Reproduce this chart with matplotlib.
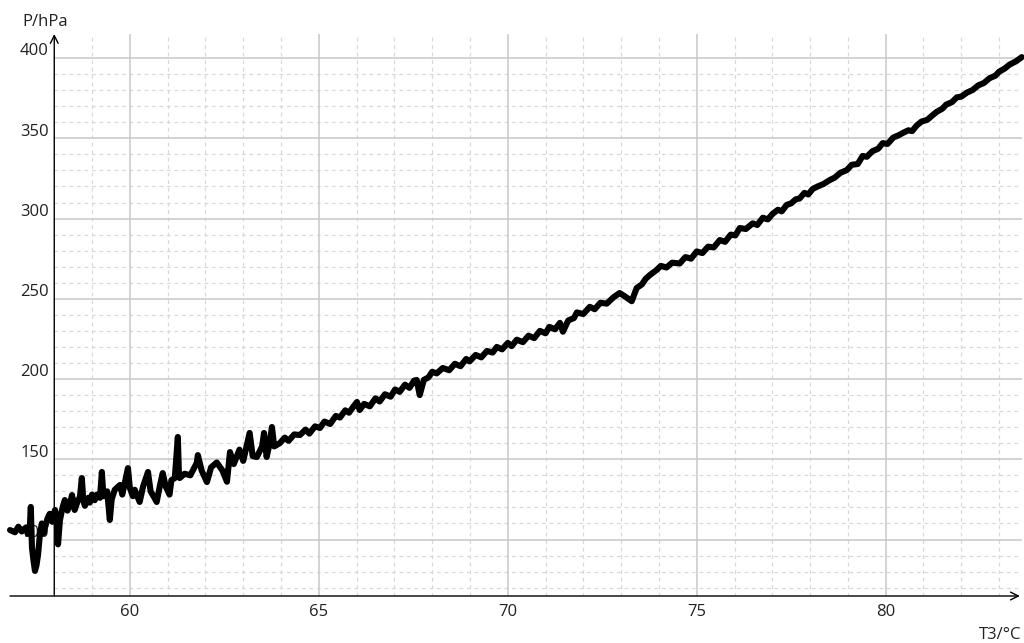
import numpy as np
import matplotlib
matplotlib.use("Agg")
import matplotlib.pyplot as plt

plt.rcParams['font.family'] = ['Open Sans', 'DejaVu Sans']

# trace: T3 in degC, P in hPa
temp = [56.83, 56.96, 57.05, 57.14, 57.25, 57.30, 57.35, 57.38, 57.41, 57.45,
        57.49, 57.53, 57.57, 57.62, 57.67, 57.72, 57.75, 57.82, 57.88, 57.95,
        58.02, 58.07, 58.10, 58.15, 58.22, 58.28, 58.35, 58.41, 58.47, 58.54,
        58.62, 58.68, 58.73, 58.77, 58.81, 58.90, 58.94, 59.00, 59.07, 59.13,
        59.21, 59.26, 59.30, 59.40, 59.47, 59.52, 59.60, 59.74, 59.80, 59.95,
        60.00, 60.08, 60.13, 60.26, 60.35, 60.48, 60.55, 60.65, 60.71, 60.80,
        60.87, 60.95, 61.05, 61.10, 61.19, 61.27, 61.30, 61.32, 61.45, 61.60,
        61.77, 61.80, 61.90, 62.04, 62.15, 62.30, 62.45, 62.57, 62.65, 62.75,
        62.90, 63.00, 63.17, 63.25, 63.36, 63.50, 63.55, 63.62, 63.70, 63.76,
        63.82, 63.97, 64.10, 64.20, 64.35, 64.50, 64.65, 64.75, 64.90, 65.03,
        65.15, 65.30, 65.45, 65.56, 65.70, 65.80, 65.92, 66.01, 66.08, 66.20,
        66.35, 66.50, 66.61, 66.75, 66.90, 67.02, 67.14, 67.28, 67.40, 67.52,
        67.59, 67.67, 67.78, 67.90, 68.00, 68.12, 68.28, 68.45, 68.60, 68.75,
        68.90, 68.99, 69.15, 69.30, 69.45, 69.60, 69.71, 69.85, 70.00, 70.10,
        70.24, 70.40, 70.55, 70.70, 70.85, 71.00, 71.10, 71.25, 71.38, 71.46,
        71.60, 71.75, 71.83, 72.00, 72.17, 72.30, 72.45, 72.62, 72.80, 72.96,
        73.10, 73.28, 73.41, 73.55, 73.65, 73.76, 73.94, 74.05, 74.20, 74.35,
        74.55, 74.70, 74.85, 75.00, 75.15, 75.30, 75.45, 75.61, 75.75, 75.90,
        76.02, 76.14, 76.30, 76.48, 76.60, 76.75, 76.88, 77.01, 77.15, 77.25,
        77.38, 77.50, 77.62, 77.72, 77.85, 77.95, 78.07, 78.20, 78.35, 78.52,
        78.65, 78.80, 78.97, 79.10, 79.26, 79.39, 79.50, 79.65, 79.80, 79.92,
        80.05, 80.20, 80.35, 80.45, 80.60, 80.70, 80.82, 80.95, 81.10, 81.22,
        81.35, 81.50, 81.60, 81.75, 81.88, 82.00, 82.15, 82.30, 82.45, 82.60,
        82.75, 82.90, 83.00, 83.15, 83.28, 83.45, 83.60]
pres = [105.9, 104.5, 108.0, 105.0, 107.5, 103.5, 106.0, 120.3, 95.0, 87.0,
        80.4, 84.0, 90.3, 103.0, 110.0, 104.0, 107.0, 113.0, 116.0, 111.0,
        118.4, 113.0, 97.0, 112.0, 120.0, 124.6, 118.0, 121.5, 127.7, 118.4,
        124.0, 126.5, 138.3, 124.0, 121.0, 126.0, 123.0, 128.0, 124.5, 128.0,
        126.0, 142.1, 127.0, 130.0, 112.2, 125.0, 131.0, 134.0, 128.0, 144.5,
        132.1, 127.0, 131.0, 123.4, 133.0, 142.1, 130.0, 126.0, 123.4, 134.0,
        141.4, 133.0, 128.0, 137.0, 138.3, 163.9, 140.0, 138.3, 141.0, 140.0,
        147.7, 152.6, 143.0, 135.8, 145.0, 148.0, 143.0, 136.0, 154.5, 147.0,
        156.0, 149.0, 166.4, 152.0, 151.4, 158.0, 166.4, 151.4, 160.0, 170.1,
        158.0, 160.1, 163.5, 161.5, 165.5, 165.1, 168.5, 166.0, 170.5, 169.5,
        173.5, 172.0, 177.0, 176.0, 180.5, 179.0, 183.0, 185.7, 180.7, 184.5,
        183.0, 188.0, 186.0, 190.5, 189.0, 193.5, 192.0, 196.5, 194.5, 199.0,
        199.4, 190.0, 199.5, 201.0, 204.5, 203.5, 206.9, 205.5, 209.5, 208.0,
        212.5, 211.0, 215.0, 213.5, 217.5, 216.5, 220.0, 218.5, 222.5, 220.5,
        224.5, 223.0, 227.0, 225.5, 230.0, 228.5, 232.5, 231.0, 235.0, 229.5,
        236.5, 238.0, 241.5, 240.5, 245.0, 243.5, 247.5, 247.0, 251.0, 253.6,
        251.5, 248.5, 256.7, 259.0, 262.5, 264.8, 268.0, 270.5, 269.5, 272.5,
        272.0, 276.0, 275.0, 279.5, 278.5, 282.5, 282.0, 286.6, 285.5, 290.0,
        289.5, 294.1, 293.5, 297.0, 296.0, 300.5, 299.5, 303.0, 305.5, 304.5,
        308.5, 309.5, 312.0, 312.5, 316.0, 315.0, 318.5, 320.0, 321.5, 324.0,
        325.5, 328.5, 330.2, 333.5, 334.0, 339.0, 338.5, 342.0, 343.5, 347.0,
        346.5, 350.5, 352.0, 353.3, 355.0, 354.5, 358.0, 360.5, 361.5, 364.0,
        366.5, 368.5, 371.0, 372.5, 375.5, 376.0, 378.5, 380.1, 383.0, 384.5,
        387.5, 389.0, 391.5, 393.5, 396.0, 398.0, 400.6]

x_major = [60, 65, 70, 75, 80]
y_major = [100, 150, 200, 250, 300, 350, 400]
x_minor = [x for x in range(59, 84) if x not in x_major]
y_minor = [y for y in range(70, 401, 10) if y not in y_major]

x0, x1 = 56.83, 83.60
y0, y1 = 64.8, 415.0
x_axis_at = 58.0

fig = plt.figure(figsize=(10.24, 6.43), dpi=100)
ax = fig.add_axes([0.0098, 0.0731, 0.988, 0.874])
ax.set_xlim(x0, x1)
ax.set_ylim(y0, y1)
ax.axis('off')

# grid
dash = (0, (3, 3))
ax.vlines(x_minor, y0, y1, colors='#d8d8d8', linewidth=0.9, linestyles=dash, zorder=0)
ax.hlines(y_minor, x_axis_at, x1, colors='#d8d8d8', linewidth=0.9, linestyles=dash, zorder=0)
ax.vlines(x_major, y0, y1, colors='#c8c8c8', linewidth=1.1, zorder=0)
ax.hlines(y_major, x_axis_at, x1, colors='#c8c8c8', linewidth=1.1, zorder=0)

# tick labels
for y in y_major:
    ax.annotate(str(y), (x_axis_at, y), xytext=(-4, -1), textcoords='offset points',
                ha='right', va='bottom', fontsize=12, color='#222222', zorder=1)
for x in x_major:
    ax.annotate(str(x), (x, y0), xytext=(0, -6), textcoords='offset points',
                ha='center', va='top', fontsize=12, color='#222222', zorder=1)

# axes with arrows
ax.annotate('', xy=(x_axis_at, y1), xytext=(x_axis_at, y0),
            arrowprops=dict(arrowstyle='->', color='black', lw=1.0,
                            mutation_scale=14, shrinkA=0, shrinkB=0), zorder=4)
ax.annotate('', xy=(x1 - 0.05, y0), xytext=(x0, y0),
            arrowprops=dict(arrowstyle='->', color='black', lw=1.0,
                            mutation_scale=14, shrinkA=0, shrinkB=0), zorder=4)

ax.plot(temp, pres, color='black', linewidth=4.4, solid_joinstyle='round',
        solid_capstyle='round', zorder=5, clip_on=False)

fig.text(0.022, 0.978, 'P/hPa', ha='left', va='top', fontsize=12, color='#222222')
fig.text(0.997, 0.0, 'T3/°C', ha='right', va='bottom', fontsize=12, color='#222222')

fig.savefig('out.png', dpi=100)
